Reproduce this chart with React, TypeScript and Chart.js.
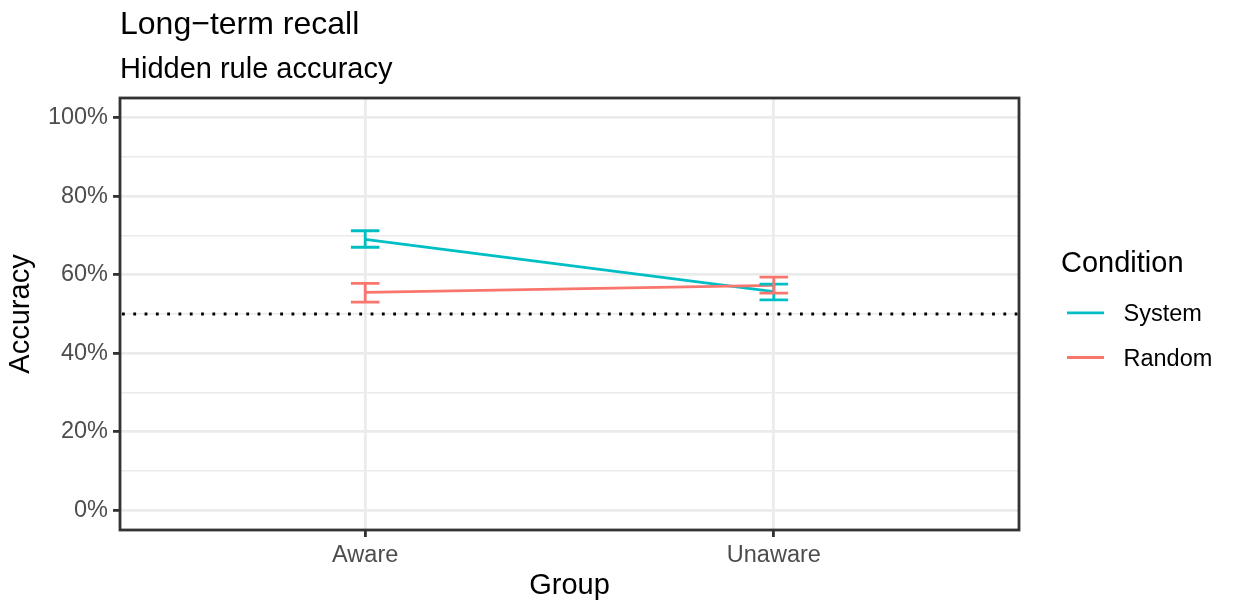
import React, { useEffect, useRef } from "react";
import { Chart, registerables } from "chart.js";

Chart.register(...registerables);

// ---- data ----
const groups = ["Aware", "Unaware"];
const conditions = ["System", "Random"];
const conditionColors = ["#00BFC4", "#F8766D"];
const systemMean = [69.0, 55.7];
const systemLow = [67.0, 53.6];
const systemHigh = [71.2, 57.6];
const randomMean = [55.5, 57.3];
const randomLow = [53.0, 55.3];
const randomHigh = [57.8, 59.4];
const chanceLevel = 50;
const yTickValues = [0, 10, 20, 30, 40, 50, 60, 70, 80, 90, 100];
const titleText = "Long\u2212term recall";
const subtitleText = "Hidden rule accuracy";
const xTitle = "Group";
const yTitle = "Accuracy";
const legendTitle = "Condition";

const FONT = '"Liberation Sans", Arial, Helvetica, sans-serif';
const LW = 2.8;
const CAP_HALF = 0.035;
const BASE = 29;
const SMALL = 23.5;

const series = [
  { name: conditions[0], color: conditionColors[0], mean: systemMean, lo: systemLow, hi: systemHigh },
  { name: conditions[1], color: conditionColors[1], mean: randomMean, lo: randomLow, hi: randomHigh },
];

const decorPlugin = {
  id: "decor",
  afterDatasetsDraw(chart: any) {
    const { ctx, scales } = chart;
    const x = scales.x;
    const y = scales.y;
    ctx.save();
    ctx.lineWidth = LW;
    ctx.lineCap = "butt";
    ctx.lineJoin = "miter";
    for (const s of series) {
      ctx.strokeStyle = s.color;
      for (let i = 0; i < groups.length; i++) {
        const px = x.getPixelForValue(i + 1);
        const w = x.getPixelForValue(i + 1 + CAP_HALF) - px;
        const yh = y.getPixelForValue(s.hi[i]);
        const yl = y.getPixelForValue(s.lo[i]);
        ctx.beginPath();
        ctx.moveTo(px - w, yh);
        ctx.lineTo(px + w, yh);
        ctx.moveTo(px, yh);
        ctx.lineTo(px, yl);
        ctx.moveTo(px - w, yl);
        ctx.lineTo(px + w, yl);
        ctx.stroke();
      }
    }
    ctx.restore();
  },
  afterDraw(chart: any) {
    const { ctx, chartArea } = chart;
    ctx.save();
    // panel border
    ctx.strokeStyle = "#333333";
    ctx.lineWidth = LW;
    ctx.strokeRect(chartArea.left, chartArea.top, chartArea.right - chartArea.left, chartArea.bottom - chartArea.top);

    // titles
    ctx.fillStyle = "#000000";
    ctx.textAlign = "left";
    ctx.textBaseline = "alphabetic";
    ctx.font = `32px ${FONT}`;
    ctx.fillText(titleText, chartArea.left, 34);
    ctx.font = `${BASE}px ${FONT}`;
    ctx.fillText(subtitleText, chartArea.left, 78);

    // legend
    const lx = chartArea.right + 42;
    ctx.font = `${BASE}px ${FONT}`;
    ctx.fillText(legendTitle, lx, 271.5);
    const keyCenters = [312.8, 357.5];
    series.forEach((s, i) => {
      const cy = keyCenters[i];
      ctx.strokeStyle = s.color;
      ctx.lineWidth = LW;
      ctx.beginPath();
      ctx.moveTo(lx + 6, cy);
      ctx.lineTo(lx + 43, cy);
      ctx.stroke();
      ctx.fillStyle = "#000000";
      ctx.font = `${SMALL}px ${FONT}`;
      ctx.fillText(s.name, lx + 62.5, cy + 0.358 * SMALL);
    });
    ctx.restore();
  },
};

export default function App() {
  const ref = useRef<HTMLCanvasElement>(null);
  useEffect(() => {
    const canvas = ref.current;
    if (!canvas) return;
    const chart = new Chart(canvas, {
      type: "line",
      data: {
        datasets: [
          {
            label: conditions[1],
            data: groups.map((_, i) => ({ x: i + 1, y: randomMean[i] })),
            borderColor: conditionColors[1],
            borderWidth: LW,
            pointRadius: 0,
            tension: 0,
          },
          {
            label: conditions[0],
            data: groups.map((_, i) => ({ x: i + 1, y: systemMean[i] })),
            borderColor: conditionColors[0],
            borderWidth: LW,
            pointRadius: 0,
            tension: 0,
          },
          {
            label: "chance",
            data: [
              { x: 0.4, y: chanceLevel },
              { x: 2.6, y: chanceLevel },
            ],
            borderColor: "#000000",
            borderWidth: LW,
            borderDash: [2.8, 8.5],
            borderDashOffset: -2,
            borderCapStyle: "butt",
            pointRadius: 0,
          },
        ],
      },
      options: {
        responsive: false,
        animation: false,
        devicePixelRatio: 1,
        layout: { padding: { top: 98, right: 214, left: 0, bottom: 0 } },
        plugins: {
          legend: { display: false },
          tooltip: { enabled: false },
          title: { display: false },
        },
        scales: {
          x: {
            type: "linear",
            min: 0.4,
            max: 2.6,
            bounds: "data",
            afterBuildTicks: (s: any) => {
              s.ticks = groups.map((_, i) => ({ value: i + 1 }));
            },
            afterFit: (s: any) => {
              s.height = 75;
            },
            ticks: {
              autoSkip: false,
              maxRotation: 0,
              padding: 4,
              color: "#4D4D4D",
              font: { family: FONT, size: SMALL },
              callback: (v: any) => groups[Math.round(Number(v)) - 1] ?? "",
            },
            grid: {
              color: "#EBEBEB",
              lineWidth: LW,
              tickColor: "#333333",
              tickWidth: LW,
              tickLength: 7,
            },
            border: { display: false },
            title: {
              display: true,
              text: xTitle,
              color: "#000000",
              font: { family: FONT, size: BASE },
              padding: { top: 0, bottom: 2 },
            },
          },
          y: {
            type: "linear",
            min: -5,
            max: 105,
            bounds: "data",
            afterBuildTicks: (s: any) => {
              s.ticks = yTickValues.map((v) => ({ value: v }));
            },
            afterFit: (s: any) => {
              s.width = 120;
            },
            ticks: {
              autoSkip: false,
              padding: 5,
              color: "#4D4D4D",
              font: { family: FONT, size: SMALL },
              callback: (v: any) => (Number(v) % 20 === 0 ? `${v}%` : ""),
            },
            grid: {
              color: "#EBEBEB",
              lineWidth: (c: any) => (c.tick && c.tick.value % 20 === 0 ? LW : LW / 2),
              tickColor: (c: any) => (c.tick && c.tick.value % 20 === 0 ? "#333333" : "rgba(0,0,0,0)"),
              tickWidth: LW,
              tickLength: 7,
            },
            border: { display: false },
            title: {
              display: true,
              text: yTitle,
              color: "#000000",
              font: { family: FONT, size: BASE },
              padding: { top: 4, bottom: 0 },
            },
          },
        },
      },
      plugins: [decorPlugin],
    } as any);
    return () => chart.destroy();
  }, []);
  return (
    <div style={{ position: "fixed", left: 0, top: 0, width: 1233, height: 605, background: "#ffffff" }}>
      <canvas ref={ref} width={1233} height={605} style={{ display: "block", width: 1233, height: 605 }} />
    </div>
  );
}
